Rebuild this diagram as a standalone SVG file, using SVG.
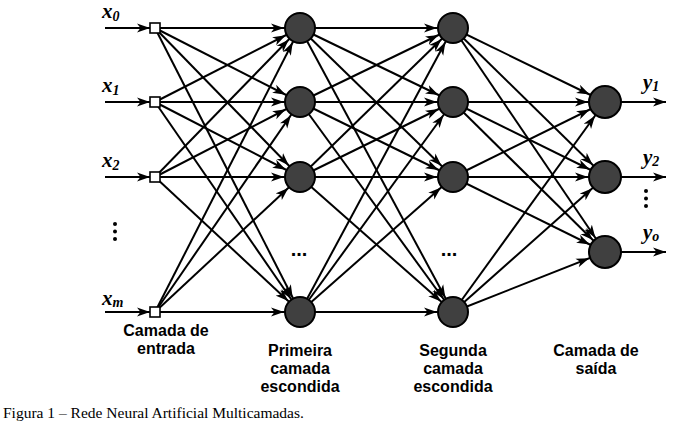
<svg xmlns="http://www.w3.org/2000/svg" width="696" height="424" viewBox="0 0 696 424">
<style>
.c{stroke:#000;stroke-width:2;fill:none}
.h{marker-end:url(#ah)}
.o{marker-end:url(#ao)}
.p{marker-end:url(#ap)}
.n{fill:#404040;stroke:#000;stroke-width:2}
.sq{fill:#fff;stroke:#000;stroke-width:1.6}
.lab{font-family:"Liberation Sans",Arial,sans-serif;font-weight:bold;font-size:16px;text-anchor:middle;fill:#000}
.var{font-family:"Liberation Serif","Times New Roman",serif;font-style:italic;font-weight:bold;font-size:21px;fill:#000}
.sub{font-size:14px}
.cap{font-family:"Liberation Serif","Times New Roman",serif;font-size:15.5px;fill:#000}
.dots{font-family:"Liberation Sans",Arial,sans-serif;font-weight:bold;font-size:20px;text-anchor:middle}
</style>
<defs>
<marker id="ah" markerWidth="13" markerHeight="10" refX="29" refY="5" orient="auto" markerUnits="userSpaceOnUse"><path d="M0,0.5 L13,5 L0,9.5 L3.5,5 z" fill="#000"/></marker>
<marker id="ao" markerWidth="13" markerHeight="10" refX="30" refY="5" orient="auto" markerUnits="userSpaceOnUse"><path d="M0,0.5 L13,5 L0,9.5 L3.5,5 z" fill="#000"/></marker>
<marker id="ap" markerWidth="13" markerHeight="10" refX="13" refY="5" orient="auto" markerUnits="userSpaceOnUse"><path d="M0,0.5 L13,5 L0,9.5 L3.5,5 z" fill="#000"/></marker>
</defs>
<g id="connectors">
<line class="c p" x1="105" y1="28" x2="150" y2="28"/>
<line class="c p" x1="105" y1="102" x2="150" y2="102"/>
<line class="c p" x1="105" y1="177" x2="150" y2="177"/>
<line class="c p" x1="105" y1="312" x2="150" y2="312"/>
<line class="c h" x1="155" y1="28" x2="300" y2="28"/>
<line class="c h" x1="155" y1="28" x2="300" y2="102"/>
<line class="c h" x1="155" y1="28" x2="300" y2="177"/>
<line class="c h" x1="155" y1="28" x2="300" y2="312"/>
<line class="c h" x1="155" y1="102" x2="300" y2="28"/>
<line class="c h" x1="155" y1="102" x2="300" y2="102"/>
<line class="c h" x1="155" y1="102" x2="300" y2="177"/>
<line class="c h" x1="155" y1="102" x2="300" y2="312"/>
<line class="c h" x1="155" y1="177" x2="300" y2="28"/>
<line class="c h" x1="155" y1="177" x2="300" y2="102"/>
<line class="c h" x1="155" y1="177" x2="300" y2="177"/>
<line class="c h" x1="155" y1="177" x2="300" y2="312"/>
<line class="c h" x1="155" y1="312" x2="300" y2="28"/>
<line class="c h" x1="155" y1="312" x2="300" y2="102"/>
<line class="c h" x1="155" y1="312" x2="300" y2="177"/>
<line class="c h" x1="155" y1="312" x2="300" y2="312"/>
<line class="c h" x1="300" y1="28" x2="453" y2="28"/>
<line class="c h" x1="300" y1="28" x2="453" y2="102"/>
<line class="c h" x1="300" y1="28" x2="453" y2="177"/>
<line class="c h" x1="300" y1="28" x2="453" y2="312"/>
<line class="c h" x1="300" y1="102" x2="453" y2="28"/>
<line class="c h" x1="300" y1="102" x2="453" y2="102"/>
<line class="c h" x1="300" y1="102" x2="453" y2="177"/>
<line class="c h" x1="300" y1="102" x2="453" y2="312"/>
<line class="c h" x1="300" y1="177" x2="453" y2="28"/>
<line class="c h" x1="300" y1="177" x2="453" y2="102"/>
<line class="c h" x1="300" y1="177" x2="453" y2="177"/>
<line class="c h" x1="300" y1="177" x2="453" y2="312"/>
<line class="c h" x1="300" y1="312" x2="453" y2="28"/>
<line class="c h" x1="300" y1="312" x2="453" y2="102"/>
<line class="c h" x1="300" y1="312" x2="453" y2="177"/>
<line class="c h" x1="300" y1="312" x2="453" y2="312"/>
<line class="c o" x1="453" y1="28" x2="605" y2="102"/>
<line class="c o" x1="453" y1="28" x2="605" y2="177"/>
<line class="c o" x1="453" y1="28" x2="605" y2="252"/>
<line class="c o" x1="453" y1="102" x2="605" y2="102"/>
<line class="c o" x1="453" y1="102" x2="605" y2="177"/>
<line class="c o" x1="453" y1="102" x2="605" y2="252"/>
<line class="c o" x1="453" y1="177" x2="605" y2="102"/>
<line class="c o" x1="453" y1="177" x2="605" y2="177"/>
<line class="c o" x1="453" y1="177" x2="605" y2="252"/>
<line class="c o" x1="453" y1="312" x2="605" y2="102"/>
<line class="c o" x1="453" y1="312" x2="605" y2="177"/>
<line class="c o" x1="453" y1="312" x2="605" y2="252"/>
<line class="c p" x1="621" y1="102" x2="666" y2="102"/>
<line class="c p" x1="621" y1="177" x2="666" y2="177"/>
<line class="c p" x1="621" y1="252" x2="666" y2="252"/>
</g>
<g id="in0"><rect class="sq" x="150" y="23" width="10" height="10"/><text class="var" x="102" y="18">x<tspan class="sub" dy="3">0</tspan></text></g>
<g id="in1"><rect class="sq" x="150" y="97" width="10" height="10"/><text class="var" x="102" y="92">x<tspan class="sub" dy="3">1</tspan></text></g>
<g id="in2"><rect class="sq" x="150" y="172" width="10" height="10"/><text class="var" x="102" y="167">x<tspan class="sub" dy="3">2</tspan></text></g>
<g id="in-dots"><circle cx="115" cy="224" r="2"/><circle cx="115" cy="231.5" r="2"/><circle cx="115" cy="239" r="2"/></g>
<g id="inm"><rect class="sq" x="150" y="307" width="10" height="10"/><text class="var" x="102" y="305">x<tspan class="sub" dy="2">m</tspan></text></g>
<g id="h1-0"><circle class="n" cx="300" cy="28" r="15"/></g>
<g id="h1-1"><circle class="n" cx="300" cy="102" r="15"/></g>
<g id="h1-2"><circle class="n" cx="300" cy="177" r="15"/></g>
<g id="h1-dots"><text class="dots" x="299" y="256">...</text></g>
<g id="h1-3"><circle class="n" cx="300" cy="312" r="15"/></g>
<g id="h2-0"><circle class="n" cx="453" cy="28" r="15"/></g>
<g id="h2-1"><circle class="n" cx="453" cy="102" r="15"/></g>
<g id="h2-2"><circle class="n" cx="453" cy="177" r="15"/></g>
<g id="h2-dots"><text class="dots" x="449" y="256">...</text></g>
<g id="h2-3"><circle class="n" cx="453" cy="312" r="15"/></g>
<g id="o1"><circle class="n" cx="605" cy="102" r="16"/><text class="var" x="643" y="89">y<tspan class="sub" dy="2">1</tspan></text></g>
<g id="o2"><circle class="n" cx="605" cy="177" r="16"/><text class="var" x="643" y="164">y<tspan class="sub" dy="2">2</tspan></text></g>
<g id="out-dots"><circle cx="646" cy="191" r="2"/><circle cx="646" cy="198.5" r="2"/><circle cx="646" cy="206" r="2"/></g>
<g id="o3"><circle class="n" cx="605" cy="252" r="16"/><text class="var" x="643" y="239">y<tspan class="sub" dy="2">o</tspan></text></g>
<g id="labels">
<text class="lab" x="166" y="336">Camada de</text>
<text class="lab" x="166" y="354">entrada</text>
<text class="lab" x="300" y="356">Primeira</text>
<text class="lab" x="300" y="374">camada</text>
<text class="lab" x="300" y="392">escondida</text>
<text class="lab" x="453" y="356">Segunda</text>
<text class="lab" x="453" y="374">camada</text>
<text class="lab" x="453" y="392">escondida</text>
<text class="lab" x="596" y="356">Camada de</text>
<text class="lab" x="596" y="374">saída</text>
<text class="cap" x="3" y="418">Figura 1 – Rede Neural Artificial Multicamadas.</text>
</g>
</svg>
